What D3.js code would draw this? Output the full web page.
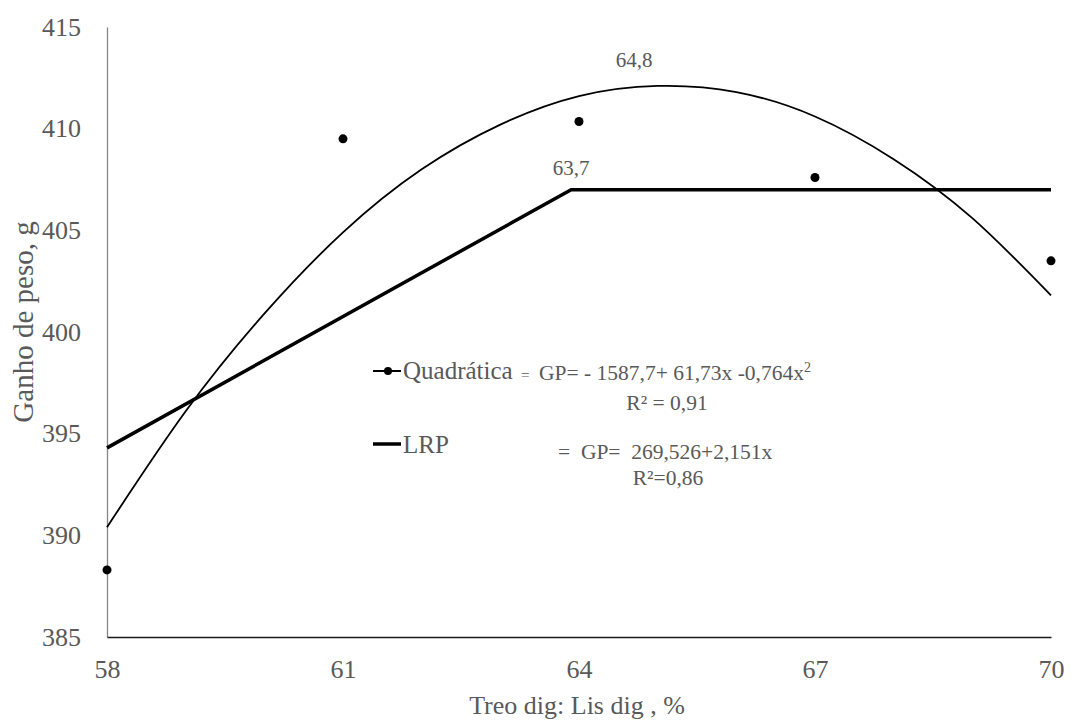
<!DOCTYPE html>
<html>
<head>
<meta charset="utf-8">
<script src="https://cdn.jsdelivr.net/npm/d3@7"></script>
<style>
    body { margin: 0; background: #fff; }
    svg text { fill: #595959; white-space: pre; }
</style>
</head>
<body>
<svg id="chart" width="1070" height="722"></svg>
<script>
// observed points
const obsX = [58, 61, 64, 67, 70];
const obsY = [388.3, 409.5, 410.35, 407.6, 403.5];

// quadratic trend at each integer x
const quadX = [58, 59, 60, 61, 62, 63, 64, 65, 66, 67, 68, 69, 70];
const quadY = [390.4, 396.1, 400.9, 404.9, 408.0, 410.2, 411.6, 412.1, 411.8, 410.6, 408.5, 405.6, 401.8];

// linear response plateau
const lrpX = [58, 63.9, 70];
const lrpY = [394.3, 407.0, 407.0];

const xTicks = [58, 61, 64, 67, 70];
const yTicks = [385, 390, 395, 400, 405, 410, 415];

const serif = "Liberation Serif, Times New Roman, serif";
const svg = d3.select("#chart").attr("font-family", serif);

let x = d3.scaleLinear().domain([58, 70]).range([107, 1051]);
let y = d3.scaleLinear().domain([385, 415]).range([637, 27]);

// axes
let yAxis = svg.append("g")
    .attr("transform", `translate(${x(58)}, 0)`)
    .call(d3.axisLeft(y).tickValues(yTicks).tickSize(0).tickPadding(26));
yAxis.attr("font-family", serif).attr("font-size", 26);
yAxis.select(".domain").attr("stroke", "#868686").attr("stroke-width", 1.3);
yAxis.selectAll("text").attr("fill", "#595959");

let xAxis = svg.append("g")
    .attr("transform", `translate(0, ${y(385)})`)
    .call(d3.axisBottom(x).tickValues(xTicks).tickSize(0).tickPadding(23));
xAxis.attr("font-family", serif).attr("font-size", 26);
xAxis.select(".domain").attr("stroke", "#1a1a1a").attr("stroke-width", 1.5);
xAxis.selectAll("text").attr("fill", "#595959");

// axis titles
svg.append("text")
    .attr("transform", "translate(33, 322) rotate(-90)")
    .attr("text-anchor", "middle")
    .style("font-size", "29px")
    .text("Ganho de peso, g");

svg.append("text")
    .attr("x", 577)
    .attr("y", 714)
    .attr("text-anchor", "middle")
    .style("font-size", "26px")
    .text("Treo dig: Lis dig , %");

// lines
svg.append("path")
    .datum(quadX.map((v, i) => [v, quadY[i]]))
    .attr("fill", "none")
    .attr("stroke", "#000")
    .attr("stroke-width", 1.8)
    .attr("d", d3.line().x(d => x(d[0])).y(d => y(d[1])).curve(d3.curveNatural));

svg.append("path")
    .datum(lrpX.map((v, i) => [v, lrpY[i]]))
    .attr("fill", "none")
    .attr("stroke", "#000")
    .attr("stroke-width", 3.5)
    .attr("d", d3.line().x(d => x(d[0])).y(d => y(d[1])));

svg.append("g").selectAll("circle")
    .data(obsX.map((v, i) => [v, obsY[i]]))
    .join("circle")
    .attr("cx", d => x(d[0]))
    .attr("cy", d => y(d[1]))
    .attr("r", 4.5)
    .attr("fill", "#000");

// point labels
svg.append("text")
    .attr("x", 634).attr("y", 67)
    .attr("text-anchor", "middle")
    .style("font-size", "21px")
    .text("64,8");

svg.append("text")
    .attr("x", 571).attr("y", 175)
    .attr("text-anchor", "middle")
    .style("font-size", "21px")
    .text("63,7");

// legend
let legend = svg.append("g");
legend.append("line")
    .attr("x1", 373).attr("x2", 401)
    .attr("y1", 371).attr("y2", 371)
    .attr("stroke", "#000").attr("stroke-width", 2);
legend.append("circle")
    .attr("cx", 388).attr("cy", 371).attr("r", 4).attr("fill", "#000");
legend.append("text")
    .attr("x", 403).attr("y", 379)
    .style("font-size", "25px")
    .text("Quadrática");

legend.append("line")
    .attr("x1", 373).attr("x2", 401)
    .attr("y1", 444).attr("y2", 444)
    .attr("stroke", "#000").attr("stroke-width", 3.5);
legend.append("text")
    .attr("x", 403).attr("y", 453)
    .style("font-size", "25px")
    .text("LRP");

// equations
let eqs = svg.append("g");
let eq1 = eqs.append("text")
    .attr("x", 521).attr("y", 380)
    .style("font-size", "21.5px");
eq1.append("tspan").style("font-size", "15px").text("=");
eq1.append("tspan").attr("x", 539).text("GP= - 1587,7+ 61,73x -0,764x");
eq1.append("tspan").attr("dy", -8).style("font-size", "14px").text("2");

eqs.append("text")
    .attr("x", 667).attr("y", 410)
    .attr("text-anchor", "middle")
    .style("font-size", "21.5px")
    .text("R² = 0,91");

eqs.append("text")
    .attr("x", 558).attr("y", 459)
    .style("font-size", "21.5px")
    .text("=  GP=  269,526+2,151x");

eqs.append("text")
    .attr("x", 668).attr("y", 485)
    .attr("text-anchor", "middle")
    .style("font-size", "21.5px")
    .text("R²=0,86");
</script>
</body>
</html>
